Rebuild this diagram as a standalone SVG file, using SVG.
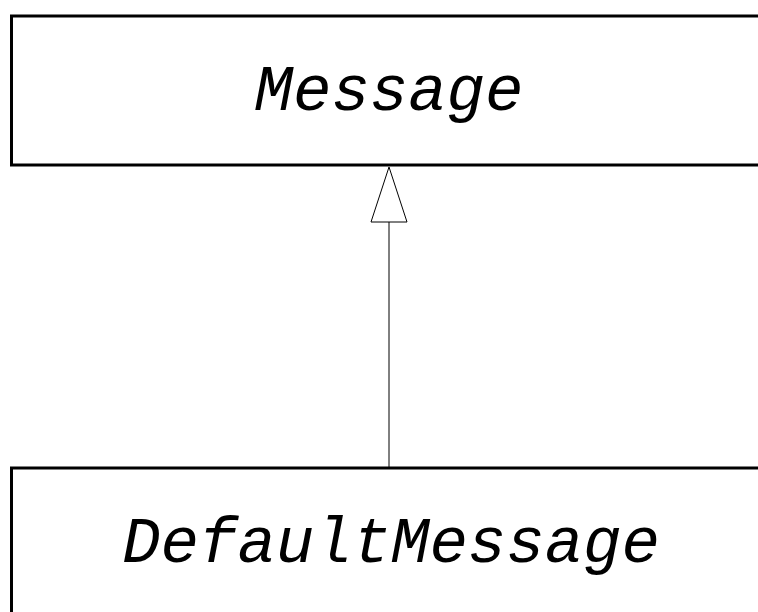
<svg xmlns="http://www.w3.org/2000/svg" width="758" height="612" viewBox="0 0 758 612">
<style>
.box{fill:#fff;stroke:#000;stroke-width:3}
.lbl{font-family:"Liberation Mono","Courier New",monospace;font-style:italic;font-size:64px;fill:#000;text-anchor:middle}
.conn{stroke:#000;stroke-width:1;fill:none}
.head{fill:#fff;stroke:#000;stroke-width:1}
</style>
<rect width="758" height="612" fill="#fff"/>
<g id="Message">
<rect class="box" x="11.5" y="16" width="760" height="149"/>
<text class="lbl" x="389" y="110">Message</text>
</g>
<g id="DefaultMessage">
<rect class="box" x="11.5" y="468" width="760" height="160"/>
<text class="lbl" x="391" y="562">DefaultMessage</text>
</g>
<g id="connectors">
<line class="conn" x1="389" y1="467" x2="389" y2="222"/>
<polygon class="head" points="389,167 371,222 407,222"/>
</g>
</svg>
